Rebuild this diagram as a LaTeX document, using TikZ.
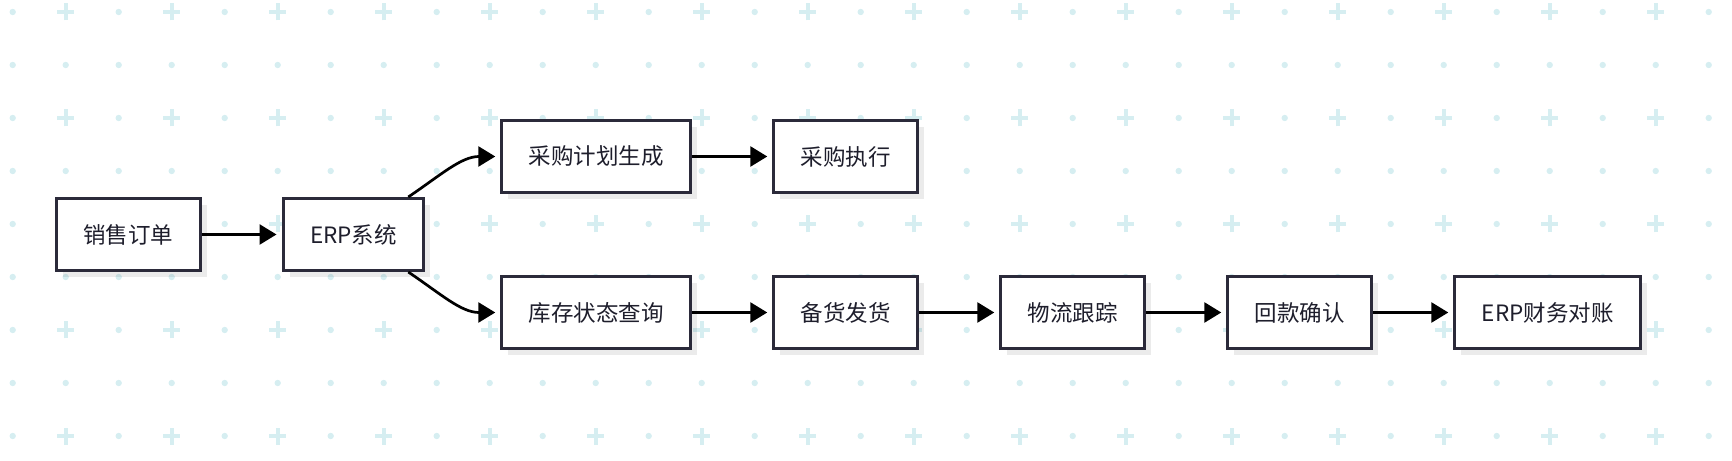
\documentclass[tikz,border=0pt]{standalone}
\usepackage{fontspec}
\setmainfont{Noto Sans CJK SC}
\usepackage{tikz}
\usetikzlibrary{positioning,arrows.meta,shadows}
\definecolor{boxline}{HTML}{2B2A3A}
\definecolor{boxtext}{HTML}{1E1E2C}
\definecolor{dotc}{HTML}{D6EEF1}

\begin{document}
\begin{tikzpicture}[
			x=0.5pt, y=0.5pt
			,box/.style={rectangle, draw=boxline, line width=1.5pt, fill=white, text=boxtext,
				font=\fontsize{11.25pt}{13pt}\selectfont, inner xsep=13.5pt, minimum height=36pt,
				drop shadow={shadow xshift=3.3pt, shadow yshift=-3.3pt, fill=black, opacity=.08}}
			,arr/.style={-{Triangle[length=8.5pt,width=10pt]}, line width=1.35pt, shorten >=2.5pt}
			,dot/.style={fill=dotc}
			,crs/.style={draw=dotc, line width=2pt}
			,node distance=40pt
		]
			\useasboundingbox (0,0) rectangle (1732,460);
			% background
			\foreach \i in {0,...,32}
				\foreach \j in {0,...,8} {
					\coordinate (p) at ({12.7+53*\i},{448-53*\j});
					\ifodd\i
						\ifodd\j
							\fill [dot] (p) circle (3.2);
						\else
							\draw [crs] (p) ++(-8.5,0) -- ++(17,0) (p) ++(0,-8.5) -- ++(0,17);
						\fi
					\else
						\fill [dot] (p) circle (3.2);
					\fi
				}
			\node [box] (A) at (128,225.5) {销售订单};
			\node [box, right=of A] (B) {ERP系统};
			\node [box, right=37.5pt of B, yshift=39pt] (C) {采购计划生成};
			\node [box, right=of C] (D) {采购执行};
			\node [box, right=37.5pt of B, yshift=-39pt] (E) {库存状态查询};
			\node [box, right=of E] (F) {备货发货};
			\node [box, right=of F] (G) {物流跟踪};
			\node [box, right=of G] (H) {回款确认};
			\node [box, right=of H] (I) {ERP财务对账};
			\draw [arr] (A) -- (B);
			\draw [arr] ([xshift=-8.5pt]B.north east) to [out=34, in=180] (C.west);
			\draw [arr] ([xshift=-8.5pt]B.south east) to [out=-34, in=180] (E.west);
			\draw [arr] (C) -- (D);
			\draw [arr] (E) -- (F);
			\draw [arr] (F) -- (G);
			\draw [arr] (G) -- (H);
			\draw [arr] (H) -- (I);
		\end{tikzpicture}
\end{document}
